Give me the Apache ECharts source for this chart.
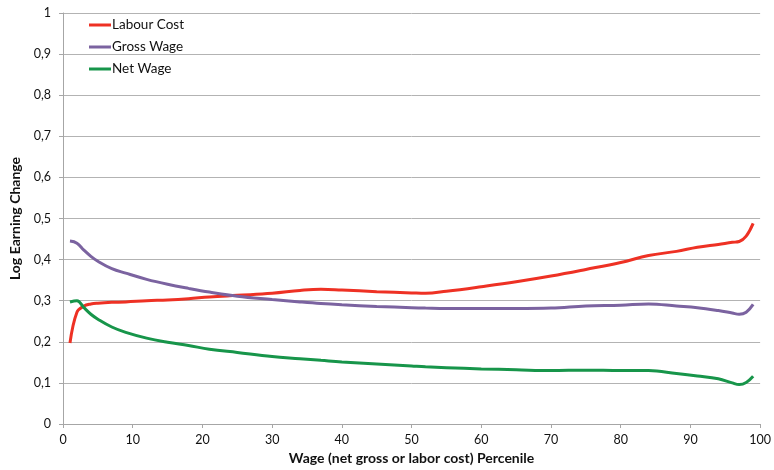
<!DOCTYPE html>
<html>
<head>
<meta charset="utf-8">
<script src="https://cdn.jsdelivr.net/npm/echarts@6/dist/echarts.min.js"></script>
<style>html,body{margin:0;padding:0;background:#fff}#c{width:774px;height:470px}</style>
</head>
<body>
<div id="c"></div>
<script>
var percentiles = [1,2,3,4,5,7,9,12,15,18,21,25,30,34,37,40,45,50,52,55,60,65,70,75,80,84,88,91,94,96,97,98,99];
var labourCost = [0.197,0.272,0.287,0.292,0.294,0.296,0.297,0.300,0.302,0.305,0.309,0.313,0.318,0.325,0.328,0.326,0.322,0.319,0.318,0.323,0.334,0.346,0.360,0.376,0.393,0.410,0.420,0.430,0.437,0.442,0.444,0.457,0.488];
var grossWage = [0.445,0.440,0.423,0.408,0.396,0.378,0.367,0.352,0.340,0.330,0.321,0.311,0.303,0.297,0.293,0.290,0.286,0.283,0.282,0.281,0.281,0.281,0.282,0.287,0.289,0.292,0.287,0.283,0.276,0.270,0.267,0.272,0.291];
var netWage = [0.297,0.300,0.283,0.267,0.255,0.236,0.223,0.209,0.199,0.191,0.182,0.174,0.164,0.159,0.155,0.151,0.146,0.141,0.139,0.137,0.134,0.132,0.130,0.131,0.130,0.130,0.123,0.117,0.110,0.100,0.096,0.101,0.116];
var seriesNames = ['Labour Cost','Gross Wage','Net Wage'];
var xTitle = 'Wage (net gross or labor cost) Percenile';
var yTitle = 'Log Earning Change';

var FONT = 'Lato, "Open Sans", sans-serif';
function pairs(vals){ return percentiles.map(function(p,i){ return [p, vals[i]]; }); }
var colors = ['#ee3124','#7b63a0','#17954a'];
var chart = echarts.init(document.getElementById('c'));
chart.setOption({
  animation: false,
  textStyle: {fontFamily: FONT},
  grid: {left: 63, right: 11, top: 13, bottom: 40.5},
  legend: {
    orient: 'vertical', left: 84, top: 13, itemGap: 8,
    icon: 'rect', itemWidth: 22, itemHeight: 3,
    textStyle: {fontFamily: FONT, fontSize: 13.5, color: '#111', padding: [0,0,0,-4]},
    data: seriesNames
  },
  xAxis: {
    type: 'value', min: 0, max: 100, interval: 10,
    name: xTitle, nameLocation: 'middle', nameGap: 27,
    nameTextStyle: {fontFamily: FONT, fontWeight: 'bold', fontSize: 14, color: '#111'},
    axisLine: {lineStyle: {color: '#a6a6a6'}},
    axisTick: {show: true, length: 4, lineStyle: {color: '#a6a6a6'}},
    axisLabel: {fontFamily: FONT, fontSize: 12.5, color: '#111', margin: 9},
    splitLine: {show: false}
  },
  yAxis: {
    type: 'value', min: 0, max: 1, interval: 0.1,
    name: yTitle, nameLocation: 'middle', nameGap: 40,
    nameTextStyle: {fontFamily: FONT, fontWeight: 'bold', fontSize: 14, color: '#111'},
    axisLine: {show: true, lineStyle: {color: '#a6a6a6'}},
    axisTick: {show: true, length: 4, lineStyle: {color: '#a6a6a6'}},
    axisLabel: {fontFamily: FONT, fontSize: 12.5, color: '#111', margin: 12,
      formatter: function(v){ return (Math.round(v*10)/10).toString().replace('.', ','); }},
    splitLine: {show: true, lineStyle: {color: '#b3b3b3', width: 1}}
  },
  series: [
    {name: seriesNames[0], type: 'line', data: pairs(labourCost), smooth: 0.4, showSymbol: false, lineStyle: {width: 3, color: colors[0]}, itemStyle: {color: colors[0]}},
    {name: seriesNames[1], type: 'line', data: pairs(grossWage), smooth: 0.4, showSymbol: false, lineStyle: {width: 3, color: colors[1]}, itemStyle: {color: colors[1]}},
    {name: seriesNames[2], type: 'line', data: pairs(netWage), smooth: 0.4, showSymbol: false, lineStyle: {width: 3, color: colors[2]}, itemStyle: {color: colors[2]}}
  ]
});
</script>
</body>
</html>
